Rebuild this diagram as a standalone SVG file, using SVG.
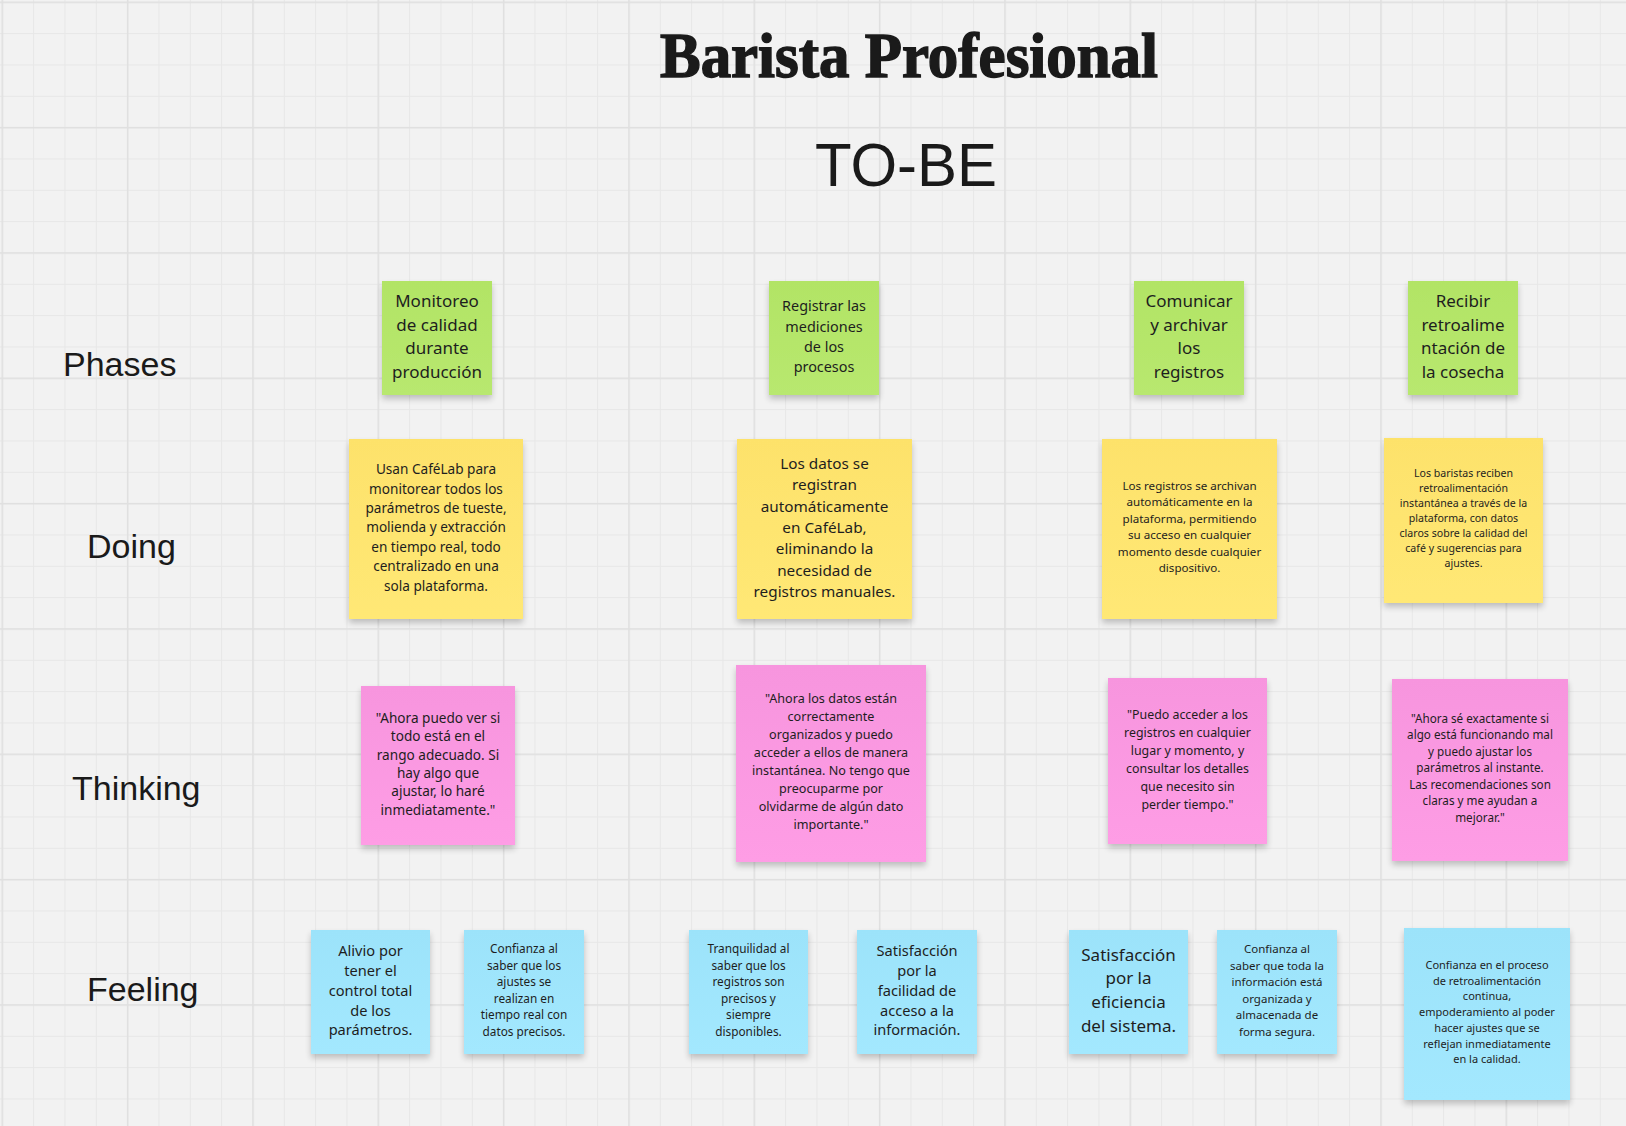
<svg xmlns="http://www.w3.org/2000/svg" width="1626" height="1126" viewBox="0 0 1626 1126">
<style>
.t{font-family:"Noto Sans","Open Sans","DejaVu Sans",sans-serif;fill:#1e1e1e;text-anchor:middle}
.lbl{font-family:"Liberation Sans",Arial,sans-serif;font-size:34px;fill:#1a1a1a}
.g{fill:url(#gG)}
.y{fill:url(#gY)}
.p{fill:url(#gP)}
.b{fill:url(#gB)}
.s{filter:url(#sh)}
</style>
<defs>
<pattern id="minor" patternUnits="userSpaceOnUse" x="1.8" y="1.8" width="31.333" height="31.333">
<path d="M0.5 0V31.333M0 0.5H31.333" stroke="#e7e7e7" stroke-width="1" fill="none"/>
</pattern>
<pattern id="major" patternUnits="userSpaceOnUse" x="1.55" y="1.55" width="125.333" height="125.333">
<path d="M0.75 0V125.333M0 0.75H125.333" stroke="#e0e0e0" stroke-width="1.5" fill="none"/>
</pattern>
<linearGradient id="gG" x1="0" y1="0" x2="0" y2="1"><stop offset="0" stop-color="#b2e465"/><stop offset="1" stop-color="#b8e86f"/></linearGradient>
<linearGradient id="gY" x1="0" y1="0" x2="0" y2="1"><stop offset="0" stop-color="#fde26b"/><stop offset="1" stop-color="#ffe875"/></linearGradient>
<linearGradient id="gP" x1="0" y1="0" x2="0" y2="1"><stop offset="0" stop-color="#f795de"/><stop offset="1" stop-color="#fe9de5"/></linearGradient>
<linearGradient id="gB" x1="0" y1="0" x2="0" y2="1"><stop offset="0" stop-color="#9ce3fa"/><stop offset="1" stop-color="#a3e8fe"/></linearGradient>
<filter id="sh" x="-10%" y="-10%" width="120%" height="125%">
<feGaussianBlur in="SourceAlpha" stdDeviation="3"/>
<feOffset dy="4" result="o"/>
<feComponentTransfer><feFuncA type="linear" slope="0.22"/></feComponentTransfer>
<feMerge><feMergeNode/><feMergeNode in="SourceGraphic"/></feMerge>
</filter>
</defs>
<rect width="1626" height="1126" fill="#f2f2f2"/>
<rect width="1626" height="1126" fill="url(#minor)"/>
<rect width="1626" height="1126" fill="url(#major)"/>

<g id="title">
<text x="909" y="77" text-anchor="middle" font-family="'Liberation Serif','DejaVu Serif',serif" font-weight="bold" font-size="64" fill="#1a1a1a" stroke="#1a1a1a" stroke-width="1.5" textLength="498" lengthAdjust="spacingAndGlyphs">Barista Profesional</text>
</g>
<g id="subtitle">
<text x="906" y="186" text-anchor="middle" font-family="'Liberation Sans',Arial,sans-serif" font-size="62" fill="#1a1a1a" textLength="182" lengthAdjust="spacingAndGlyphs">TO-BE</text>
</g>

<g id="row-labels">
<text class="lbl" x="63" y="376">Phases</text>
<text class="lbl" x="87" y="558">Doing</text>
<text class="lbl" x="72" y="800">Thinking</text>
<text class="lbl" x="87" y="1001">Feeling</text>
</g>

<g id="connectors"></g>

<!-- Phases -->
<g id="phase-1">
<rect class="g s" x="382" y="281" width="110" height="114"/>
<text class="t" font-size="17" y="306.7"><tspan x="437">Monitoreo</tspan><tspan x="437" dy="23.8">de calidad</tspan><tspan x="437" dy="23.8">durante</tspan><tspan x="437" dy="23.8">producción</tspan></text>
</g>
<g id="phase-2">
<rect class="g s" x="769" y="281" width="110" height="114"/>
<text class="t" font-size="14.4" y="311.3"><tspan x="824">Registrar las</tspan><tspan x="824" dy="20.2">mediciones</tspan><tspan x="824" dy="20.2">de los</tspan><tspan x="824" dy="20.2">procesos</tspan></text>
</g>
<g id="phase-3">
<rect class="g s" x="1134" y="281" width="110" height="114"/>
<text class="t" font-size="17" y="306.7"><tspan x="1189">Comunicar</tspan><tspan x="1189" dy="23.8">y archivar</tspan><tspan x="1189" dy="23.8">los</tspan><tspan x="1189" dy="23.8">registros</tspan></text>
</g>
<g id="phase-4">
<rect class="g s" x="1408" y="281" width="110" height="114"/>
<text class="t" font-size="17" y="306.7"><tspan x="1463">Recibir</tspan><tspan x="1463" dy="23.8">retroalime</tspan><tspan x="1463" dy="23.8">ntación de</tspan><tspan x="1463" dy="23.8">la cosecha</tspan></text>
</g>

<!-- Doing -->
<g id="doing-1">
<rect class="y s" x="349" y="439" width="174" height="180"/>
<text class="t" font-size="13.6" y="474.2"><tspan x="436">Usan CaféLab para</tspan><tspan x="436" dy="19.4">monitorear todos los</tspan><tspan x="436" dy="19.4">parámetros de tueste,</tspan><tspan x="436" dy="19.4">molienda y extracción</tspan><tspan x="436" dy="19.4">en tiempo real, todo</tspan><tspan x="436" dy="19.4">centralizado en una</tspan><tspan x="436" dy="19.4">sola plataforma.</tspan></text>
</g>
<g id="doing-2">
<rect class="y s" x="737" y="439" width="175" height="180"/>
<text class="t" font-size="15.3" y="469"><tspan x="824.5">Los datos se</tspan><tspan x="824.5" dy="21.3">registran</tspan><tspan x="824.5" dy="21.3">automáticamente</tspan><tspan x="824.5" dy="21.3">en CaféLab,</tspan><tspan x="824.5" dy="21.3">eliminando la</tspan><tspan x="824.5" dy="21.3">necesidad de</tspan><tspan x="824.5" dy="21.3">registros manuales.</tspan></text>
</g>
<g id="doing-3">
<rect class="y s" x="1102" y="439" width="175" height="180"/>
<text class="t" font-size="11.6" y="490"><tspan x="1189.5">Los registros se archivan</tspan><tspan x="1189.5" dy="16.4">automáticamente en la</tspan><tspan x="1189.5" dy="16.4">plataforma, permitiendo</tspan><tspan x="1189.5" dy="16.4">su acceso en cualquier</tspan><tspan x="1189.5" dy="16.4">momento desde cualquier</tspan><tspan x="1189.5" dy="16.4">dispositivo.</tspan></text>
</g>
<g id="doing-4">
<rect class="y s" x="1384" y="438" width="159" height="165"/>
<text class="t" font-size="10.6" y="477"><tspan x="1463.5">Los baristas reciben</tspan><tspan x="1463.5" dy="15">retroalimentación</tspan><tspan x="1463.5" dy="15">instantánea a través de la</tspan><tspan x="1463.5" dy="15">plataforma, con datos</tspan><tspan x="1463.5" dy="15">claros sobre la calidad del</tspan><tspan x="1463.5" dy="15">café y sugerencias para</tspan><tspan x="1463.5" dy="15">ajustes.</tspan></text>
</g>

<!-- Thinking -->
<g id="thinking-1">
<rect class="p s" x="361" y="686" width="154" height="159"/>
<text class="t" font-size="13.6" y="723"><tspan x="438">"Ahora puedo ver si</tspan><tspan x="438" dy="18.3">todo está en el</tspan><tspan x="438" dy="18.3">rango adecuado. Si</tspan><tspan x="438" dy="18.3">hay algo que</tspan><tspan x="438" dy="18.3">ajustar, lo haré</tspan><tspan x="438" dy="18.3">inmediatamente."</tspan></text>
</g>
<g id="thinking-2">
<rect class="p s" x="736" y="665" width="190" height="197"/>
<text class="t" font-size="12.6" y="703"><tspan x="831">"Ahora los datos están</tspan><tspan x="831" dy="18">correctamente</tspan><tspan x="831" dy="18">organizados y puedo</tspan><tspan x="831" dy="18">acceder a ellos de manera</tspan><tspan x="831" dy="18">instantánea. No tengo que</tspan><tspan x="831" dy="18">preocuparme por</tspan><tspan x="831" dy="18">olvidarme de algún dato</tspan><tspan x="831" dy="18">importante."</tspan></text>
</g>
<g id="thinking-3">
<rect class="p s" x="1108" y="678" width="159" height="166"/>
<text class="t" font-size="12.4" y="719"><tspan x="1187.5">"Puedo acceder a los</tspan><tspan x="1187.5" dy="18">registros en cualquier</tspan><tspan x="1187.5" dy="18">lugar y momento, y</tspan><tspan x="1187.5" dy="18">consultar los detalles</tspan><tspan x="1187.5" dy="18">que necesito sin</tspan><tspan x="1187.5" dy="18">perder tiempo."</tspan></text>
</g>
<g id="thinking-4">
<rect class="p s" x="1392" y="679" width="176" height="182"/>
<text class="t" font-size="11.7" y="722.5"><tspan x="1480">"Ahora sé exactamente si</tspan><tspan x="1480" dy="16.5">algo está funcionando mal</tspan><tspan x="1480" dy="16.5">y puedo ajustar los</tspan><tspan x="1480" dy="16.5">parámetros al instante.</tspan><tspan x="1480" dy="16.5">Las recomendaciones son</tspan><tspan x="1480" dy="16.5">claras y me ayudan a</tspan><tspan x="1480" dy="16.5">mejorar."</tspan></text>
</g>

<!-- Feeling -->
<g id="feeling-1">
<rect class="b s" x="311" y="930" width="119" height="124"/>
<text class="t" font-size="14.6" y="956.3"><tspan x="370.5">Alivio por</tspan><tspan x="370.5" dy="19.75">tener el</tspan><tspan x="370.5" dy="19.75">control total</tspan><tspan x="370.5" dy="19.75">de los</tspan><tspan x="370.5" dy="19.75">parámetros.</tspan></text>
</g>
<g id="feeling-2">
<rect class="b s" x="464" y="930" width="120" height="124"/>
<text class="t" font-size="11.8" y="953"><tspan x="524">Confianza al</tspan><tspan x="524" dy="16.6">saber que los</tspan><tspan x="524" dy="16.6">ajustes se</tspan><tspan x="524" dy="16.6">realizan en</tspan><tspan x="524" dy="16.6">tiempo real con</tspan><tspan x="524" dy="16.6">datos precisos.</tspan></text>
</g>
<g id="feeling-3">
<rect class="b s" x="689" y="930" width="119" height="124"/>
<text class="t" font-size="11.8" y="953"><tspan x="748.5">Tranquilidad al</tspan><tspan x="748.5" dy="16.6">saber que los</tspan><tspan x="748.5" dy="16.6">registros son</tspan><tspan x="748.5" dy="16.6">precisos y</tspan><tspan x="748.5" dy="16.6">siempre</tspan><tspan x="748.5" dy="16.6">disponibles.</tspan></text>
</g>
<g id="feeling-4">
<rect class="b s" x="857" y="930" width="120" height="124"/>
<text class="t" font-size="14.6" y="956.3"><tspan x="917">Satisfacción</tspan><tspan x="917" dy="19.75">por la</tspan><tspan x="917" dy="19.75">facilidad de</tspan><tspan x="917" dy="19.75">acceso a la</tspan><tspan x="917" dy="19.75">información.</tspan></text>
</g>
<g id="feeling-5">
<rect class="b s" x="1069" y="930" width="119" height="124"/>
<text class="t" font-size="17" y="960.7"><tspan x="1128.5">Satisfacción</tspan><tspan x="1128.5" dy="23.7">por la</tspan><tspan x="1128.5" dy="23.7">eficiencia</tspan><tspan x="1128.5" dy="23.7">del sistema.</tspan></text>
</g>
<g id="feeling-6">
<rect class="b s" x="1217" y="930" width="120" height="124"/>
<text class="t" font-size="11.5" y="953"><tspan x="1277">Confianza al</tspan><tspan x="1277" dy="16.6">saber que toda la</tspan><tspan x="1277" dy="16.6">información está</tspan><tspan x="1277" dy="16.6">organizada y</tspan><tspan x="1277" dy="16.6">almacenada de</tspan><tspan x="1277" dy="16.6">forma segura.</tspan></text>
</g>
<g id="feeling-7">
<rect class="b s" x="1404" y="928" width="166" height="172"/>
<text class="t" font-size="11" y="969"><tspan x="1487">Confianza en el proceso</tspan><tspan x="1487" dy="15.7">de retroalimentación</tspan><tspan x="1487" dy="15.7">continua,</tspan><tspan x="1487" dy="15.7">empoderamiento al poder</tspan><tspan x="1487" dy="15.7">hacer ajustes que se</tspan><tspan x="1487" dy="15.7">reflejan inmediatamente</tspan><tspan x="1487" dy="15.7">en la calidad.</tspan></text>
</g>
</svg>
